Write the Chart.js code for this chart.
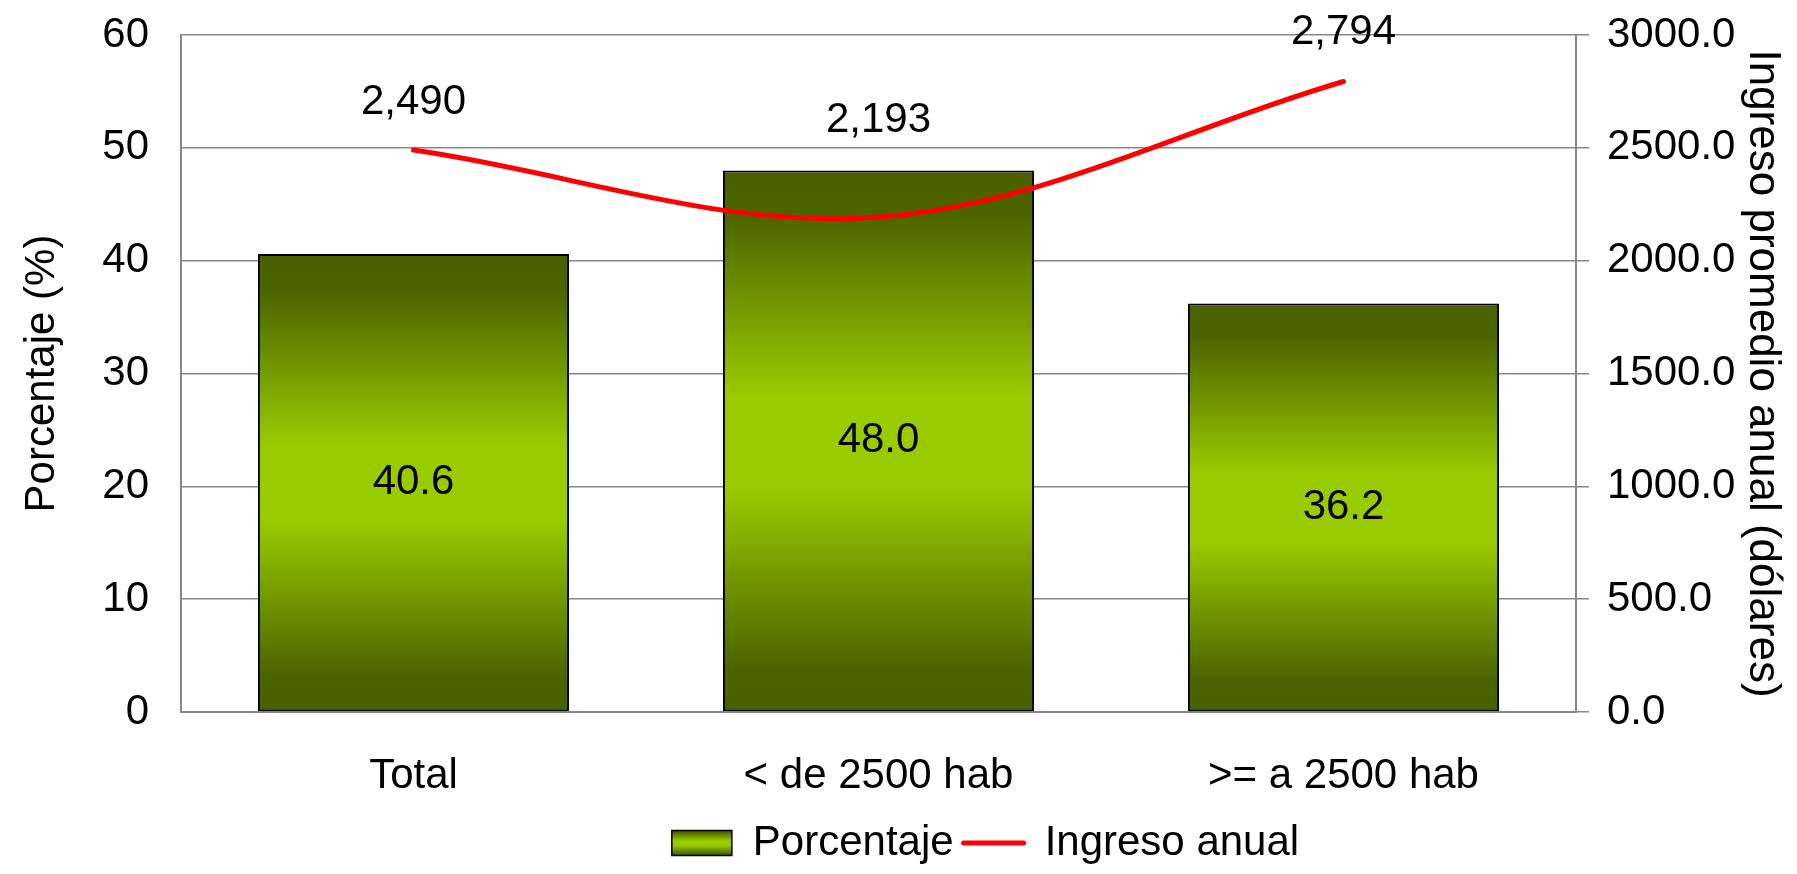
<!DOCTYPE html>
<html>
<head>
<meta charset="utf-8">
<title>Porcentaje e ingreso anual</title>
<script src="https://cdn.jsdelivr.net/npm/chart.js@4.4.1/dist/chart.umd.min.js"></script>
<style>
  html, body { margin: 0; padding: 0; background: #fff; }
  canvas { display: block; }
</style>
</head>
<body>
<canvas id="comboChart" width="1797" height="874"></canvas>
<script>
// DATA
const categories = ['Total', '< de 2500 hab', '>= a 2500 hab'];
const porcentaje = [40.6, 48.0, 36.2];
const ingresoAnual = [2490, 2193, 2794];
const leftTicks = [0, 10, 20, 30, 40, 50, 60];
const rightTicks = [0, 500, 1000, 1500, 2000, 2500, 3000];

// how far each income label sits above its point (px)
const lineLabelLift = [48, 97, 49];

const FONT = "'Liberation Sans', Arial, sans-serif";
const NARROW = "'Liberation Sans Narrow', 'Arial Narrow', 'Liberation Sans', Arial, sans-serif";
const GRID = '#888888';
Chart.defaults.font.family = FONT;
Chart.defaults.font.size = 42;
Chart.defaults.color = '#000';

// dark - bright - dark green like the original bars
function greenGradient(ctx, top, bottom) {
    const g = ctx.createLinearGradient(0, top, 0, bottom);
    g.addColorStop(0, '#4a6000');
    g.addColorStop(0.08, '#4c6400');
    g.addColorStop(0.42, '#99cc00');
    g.addColorStop(0.58, '#99cc00');
    g.addColorStop(0.92, '#4c6400');
    g.addColorStop(1, '#4a6000');
    return g;
}

const barFill = (context) => {
    const {chart} = context;
    if (!chart.chartArea || context.raw === undefined) return '#99cc00';
    const yScale = chart.scales.y;
    return greenGradient(chart.ctx, yScale.getPixelForValue(context.raw), yScale.getPixelForValue(0));
};

// fixed axis sizes, and no extra room for the end labels
const fixWidth = (w) => (s) => {
    s.width = w;
    s.paddingTop = 0;
    s.paddingBottom = 0;
};

// value labels (bars in the middle, income above the line)
const valueLabels = {
    id: 'valueLabels',
    afterDatasetsDraw(chart) {
        const ctx = chart.ctx;
        ctx.save();
        ctx.font = '42px ' + FONT;
        ctx.fillStyle = '#000';
        ctx.textAlign = 'center';
        ctx.textBaseline = 'middle';
        chart.getDatasetMeta(0).data.forEach((bar, i) => {
            const {x, y, base} = bar.getProps(['x', 'y', 'base'], true);
            ctx.fillText(porcentaje[i].toFixed(1), x, (y + base) / 2);
        });
        chart.getDatasetMeta(1).data.forEach((pt, i) => {
            ctx.fillText(ingresoAnual[i].toLocaleString('en-US'), pt.x, pt.y - lineLabelLift[i]);
        });
        ctx.restore();
    }
};

// the original legend is not centred on the canvas, nudge it right
const legendShift = {
    id: 'legendShift',
    afterLayout(chart) {
        chart.legend.left += 87;
        chart.legend.right += 87;
    }
};

const ctx = document.getElementById('comboChart').getContext('2d');

const comboChart = new Chart(ctx, {
    type: 'bar',
    data: {
        labels: categories,
        datasets: [{
            type: 'bar',
            label: 'Porcentaje',
            data: porcentaje,
            yAxisID: 'y',
            backgroundColor: barFill,
            borderColor: '#000',
            borderWidth: 2,
            borderSkipped: false,
            barPercentage: 0.669,
            categoryPercentage: 1,
            order: 2,
        },
        {
            type: 'line',
            label: 'Ingreso anual',
            data: ingresoAnual,
            yAxisID: 'y1',
            borderColor: '#ff0000',
            borderWidth: 5,
            borderCapStyle: 'round',
            borderJoinStyle: 'round',
            pointRadius: 0,
            tension: 0.35,
            fill: false,
            order: 1,
        }]
    },
    options: {
        responsive: false,
        animation: false,
        layout: {
            padding: {top: 35, left: 0, right: 0, bottom: 0}
        },
        scales: {
            x: {
                grid: {display: false, drawTicks: false},
                border: {color: GRID, width: 2},
                ticks: {padding: 39, font: {size: 42}},
                afterFit: (s) => { s.height = 100; },
            },
            y: {
                position: 'left',
                min: leftTicks[0],
                max: leftTicks[leftTicks.length - 1],
                ticks: {
                    stepSize: leftTicks[1] - leftTicks[0],
                    padding: 32,
                    font: {size: 42},
                },
                grid: {color: GRID, lineWidth: 1.5, drawTicks: false},
                border: {color: GRID, width: 2},
                title: {
                    display: true,
                    text: 'Porcentaje (%)',
                    font: {size: 42},
                    padding: {top: 17, bottom: 0},
                },
                afterFit: fixWidth(181),
            },
            y1: {
                position: 'right',
                min: rightTicks[0],
                max: rightTicks[rightTicks.length - 1],
                ticks: {
                    stepSize: rightTicks[1] - rightTicks[0],
                    padding: 18,
                    font: {size: 42},
                    callback: (value) => Number(value).toFixed(1),
                },
                grid: {drawOnChartArea: false, color: GRID, lineWidth: 1.5, tickLength: 13},
                border: {color: GRID, width: 2},
                title: {
                    display: true,
                    text: 'Ingreso promedio anual (dólares)',
                    font: {size: 44, family: NARROW},
                    padding: {top: 8, bottom: 0},
                },
                afterFit: fixWidth(221),
            }
        },
        plugins: {
            tooltip: {enabled: false},
            legend: {
                position: 'bottom',
                labels: {
                    usePointStyle: true,
                    pointStyleWidth: 60,
                    boxHeight: 25,
                    padding: 10,
                    font: {size: 42},
                    sort: (a, b) => a.datasetIndex - b.datasetIndex,
                    generateLabels(chart) {
                        const items = Chart.defaults.plugins.legend.labels.generateLabels(chart);
                        items.forEach(item => {
                            if (item.datasetIndex === 0) {
                                item.pointStyle = 'rect';
                                item.fillStyle = greenGradient(chart.ctx, 830, 856);
                                item.strokeStyle = '#000';
                                item.lineWidth = 1.5;
                            } else {
                                item.pointStyle = 'line';
                                item.strokeStyle = '#ff0000';
                                item.lineWidth = 5;
                                item.lineCap = 'round';
                            }
                        });
                        return items;
                    }
                }
            }
        }
    },
    plugins: [valueLabels, legendShift]
});
</script>
</body>
</html>
